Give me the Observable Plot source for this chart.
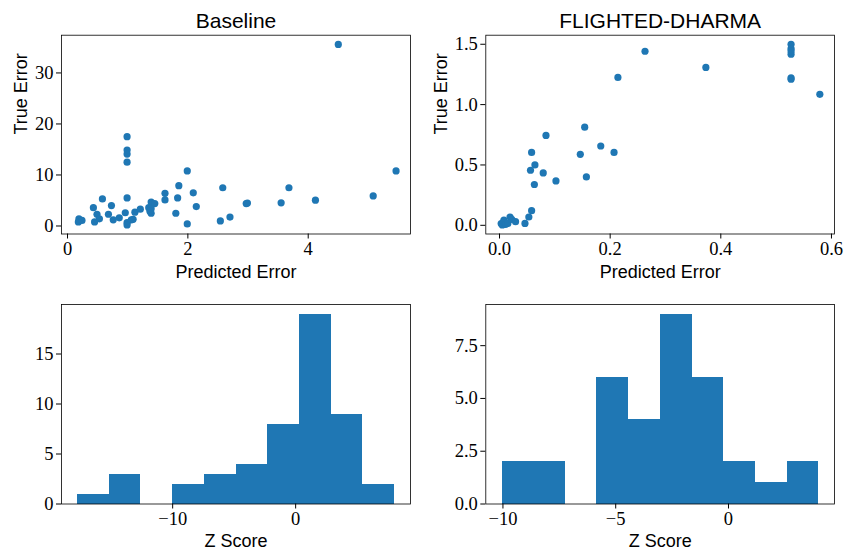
<!DOCTYPE html>
<html><head><meta charset="utf-8">
<script src="https://cdn.jsdelivr.net/npm/d3@7"></script>
<script src="https://cdn.jsdelivr.net/npm/@observablehq/plot@0.6"></script>
<style>
body{margin:0;background:#fff}
#wrap{position:relative;width:847px;height:550px;background:#fff;overflow:hidden}
#wrap > svg{position:absolute;overflow:visible}
#wrap g[aria-label="x-axis tick label"] text, #wrap g[aria-label="y-axis tick label"] text{font-family:'Liberation Serif','DejaVu Serif',serif}
</style></head><body><div id="wrap"></div>
<script>
const blue = "#1f77b4";

// Baseline scatter
const baselinePred = [4.50,5.46,5.08,4.12,3.68,3.55,2.97,2.99,2.58,2.70,2.54,1.99,1.99,2.09,2.14,1.85,1.83,1.80,1.62,1.62,0.99,0.99,0.99,0.99,0.99,0.96,0.99,0.99,1.09,1.06,1.12,1.21,1.39,1.41,1.45,1.35,1.39,1.39,1.37,0.86,0.76,0.68,0.73,0.58,0.43,0.49,0.53,0.45,0.19,0.18,0.24];
const baselineTrue = [35.6,10.8,5.9,5.06,7.5,4.55,4.4,4.5,7.5,1.75,1.0,10.8,0.4,6.5,3.8,7.9,5.5,2.5,6.4,5.1,17.5,14.9,14.1,12.5,5.5,2.6,0.65,0.2,1.3,1.2,2.7,3.3,4.7,4.4,4.4,3.6,3.4,2.5,2.9,1.6,1.2,2.3,4.0,5.3,3.6,2.3,1.4,0.8,1.4,0.8,1.1];

// FLIGHTED-DHARMA scatter
const dharmaPred = [0.527,0.527,0.527,0.527,0.527,0.527,0.579,0.373,0.263,0.214,0.154,0.183,0.207,0.146,0.157,0.102,0.084,0.079,0.058,0.064,0.056,0.063,0.058,0.053,0.046,0.003,0.005,0.007,0.008,0.011,0.015,0.019,0.022,0.029];
const dharmaTrue = [1.50,1.464,1.418,1.445,1.222,1.21,1.085,1.308,1.442,1.225,0.813,0.657,0.604,0.588,0.401,0.368,0.745,0.434,0.604,0.5,0.456,0.338,0.121,0.069,0.016,0.014,0.003,0.027,0.044,0.008,0.016,0.069,0.049,0.03];

// Z score histograms (bin edges and counts)
const baselineZEdges = [-17.75,-15.17,-12.59,-10.01,-7.43,-4.85,-2.27,0.31,2.89,5.47,8.05];
const baselineZCounts = [1,3,0,2,3,4,8,19,9,2];
const dharmaZEdges = [-10.04,-8.64,-7.23,-5.83,-4.42,-3.02,-1.61,-0.21,1.2,2.6,4.01];
const dharmaZCounts = [2,2,0,6,4,9,6,2,1,2];

// Tick values
const baselineXTicks = [0,2,4];
const baselineYTicks = [0,10,20,30];
const dharmaXTicks = [0,0.2,0.4,0.6];
const dharmaYTicks = [0,0.5,1.0,1.5];
const baselineZXTicks = [-10,0];
const baselineZYTicks = [0,5,10,15];
const dharmaZXTicks = [-10,-5,0];
const dharmaZYTicks = [0,2.5,5,7.5];

const titles = ["Baseline","FLIGHTED-DHARMA"];

const sans = "'Liberation Sans', Arial, sans-serif";
const serif = "'Liberation Serif', 'DejaVu Serif', serif";
const fInt = d3.format("d");
const f1 = d3.format(".1f");

const wrap = document.getElementById("wrap");

function panel(o) {
  const marks = [
    ...o.marks,
    Plot.frame({stroke: "black", strokeWidth: 0.8}),
    Plot.axisX({ticks: o.xTicks, tickFormat: o.xFmt, tickSize: 5, tickPadding: 3, label: null, fontSize: 18.5, fontFamily: serif}),
    Plot.axisY({ticks: o.yTicks, tickFormat: o.yFmt, tickSize: 5, tickPadding: 3, label: null, fontSize: 18.5, fontFamily: serif}),
    Plot.text([o.xLabel], {frameAnchor: "bottom", dy: o.xLabelDy, lineAnchor: "middle", fontFamily: sans, fontSize: 18, fill: "black"}),
    Plot.text([o.yLabel], {frameAnchor: "left", dx: o.yLabelDx, rotate: -90, lineAnchor: "middle", fontFamily: sans, fontSize: 18, fill: "black"})
  ];
  if (o.title) marks.push(Plot.text([o.title], {frameAnchor: "top", dy: -14, lineAnchor: "middle", fontFamily: sans, fontSize: 21, fill: "black"}));
  const svg = Plot.plot({
    width: o.width, height: o.height,
    marginLeft: o.mL, marginRight: o.mR, marginTop: o.mT, marginBottom: o.mB,
    style: {fontFamily: serif, fontSize: "18.5px", color: "black", background: "transparent", overflow: "visible"},
    x: {domain: o.xDomain},
    y: {domain: o.yDomain},
    marks
  });
  svg.style.left = o.left + "px";
  svg.style.top = o.top + "px";
  wrap.appendChild(svg);
}

const baselineScatter = baselinePred.map((p, i) => ({p, t: baselineTrue[i]}));
const dharmaScatter = dharmaPred.map((p, i) => ({p, t: dharmaTrue[i]}));
const baselineBins = baselineZCounts.map((c, i) => ({x1: baselineZEdges[i], x2: baselineZEdges[i+1], c}));
const dharmaBins = dharmaZCounts.map((c, i) => ({x1: dharmaZEdges[i], x2: dharmaZEdges[i+1], c}));

panel({left: 0, top: 0, width: 423, height: 275, mL: 61, mR: 13, mT: 34.7, mB: 41.5,
  xDomain: [-0.1, 5.7], yDomain: [-1.57, 37.4], xTicks: baselineXTicks, yTicks: baselineYTicks, xFmt: fInt, yFmt: fInt,
  marks: [Plot.dot(baselineScatter, {x: "p", y: "t", r: 3.6, fill: blue, stroke: "none"})],
  title: titles[0], xLabel: "Predicted Error", yLabel: "True Error", xLabelDy: 38, yLabelDx: -40});

panel({left: 423, top: 0, width: 424, height: 275, mL: 62.3, mR: 13, mT: 34.7, mB: 41.5,
  xDomain: [-0.0248, 0.6055], yDomain: [-0.072, 1.575], xTicks: dharmaXTicks, yTicks: dharmaYTicks, xFmt: f1, yFmt: f1,
  marks: [Plot.dot(dharmaScatter, {x: "p", y: "t", r: 3.6, fill: blue, stroke: "none"})],
  title: titles[1], xLabel: "Predicted Error", yLabel: "True Error", xLabelDy: 38, yLabelDx: -45});

panel({left: 0, top: 275, width: 423, height: 275, mL: 61, mR: 13, mT: 29, mB: 46.5,
  xDomain: [-19.04, 9.34], yDomain: [0, 19.95], xTicks: baselineZXTicks, yTicks: baselineZYTicks, xFmt: fInt, yFmt: fInt,
  marks: [Plot.rectY(baselineBins, {x1: "x1", x2: "x2", y: "c", fill: blue, shapeRendering: "crispEdges"})],
  xLabel: "Z Score", yLabel: "", xLabelDy: 37, yLabelDx: -40});

panel({left: 423, top: 275, width: 424, height: 275, mL: 62.3, mR: 13, mT: 29, mB: 46.5,
  xDomain: [-10.76, 4.7], yDomain: [0, 9.45], xTicks: dharmaZXTicks, yTicks: dharmaZYTicks, xFmt: fInt, yFmt: f1,
  marks: [Plot.rectY(dharmaBins, {x1: "x1", x2: "x2", y: "c", fill: blue, shapeRendering: "crispEdges"})],
  xLabel: "Z Score", yLabel: "", xLabelDy: 37, yLabelDx: -45});
</script></body></html>
